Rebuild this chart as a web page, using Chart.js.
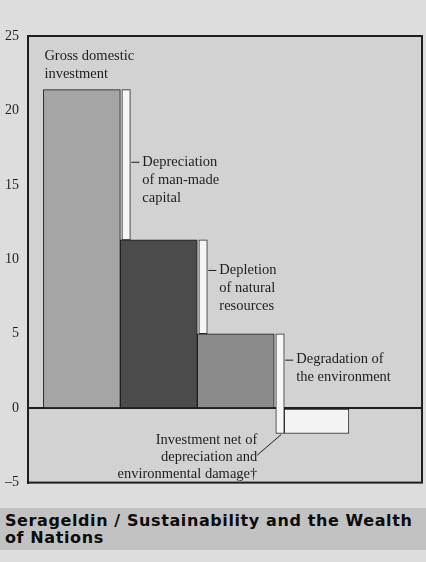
<!DOCTYPE html>
<html>
<head>
<meta charset="utf-8">
<script src="https://cdn.jsdelivr.net/npm/chart.js@4/dist/chart.umd.min.js"></script>
<style>
  html, body { margin: 0; padding: 0; width: 426px; height: 562px; overflow: hidden; background: #dddddd; }
  #wrap { position: absolute; left: 0; top: 0; width: 426px; height: 500px; }
  #footer {
    position: absolute; left: 0; top: 508px; width: 426px; height: 42px;
    box-sizing: border-box; padding: 4px 0 0 5px;
    background: #c2c2c2; color: #0c0c0c;
    font-family: "DejaVu Sans", sans-serif; font-weight: bold; font-size: 16px;
    line-height: 17px; letter-spacing: 0.6px; white-space: nowrap;
  }
</style>
</head>
<body>
<div id="wrap"><canvas id="c" width="426" height="500"></canvas></div>
<div id="footer">Serageldin / Sustainability and the Wealth<br>of Nations</div>
<script>
// Investment, percent of GNP: gross level, then what is left after each deduction
const stepNames = ['Gross domestic investment', 'Depreciation of man-made capital',
                   'Depletion of natural resources', 'Degradation of the environment'];
const netName = 'Investment net of depreciation and environmental damage†';
const levels = [21.4, 11.3, 5.0, -1.7];
const yTicks = [-5, 0, 5, 10, 15, 20, 25];

// Label text, line by line
const noteLines = [
  ['Gross domestic', 'investment'],
  ['Depreciation', 'of man-made', 'capital'],
  ['Depletion', 'of natural', 'resources'],
  ['Degradation of', 'the environment'],
  ['Investment net of', 'depreciation and', 'environmental damage†']
];

// Horizontal layout, measured in bar widths
const LEFT_GAP = 0.2, BRACKET_GAP = 0.02, BRACKET_W = 0.11, NET_W = 0.84, X_MAX = 5.12;
// where each bracket's leader sits, as a share of the bracket's height
const leaderShare = [0.48, 0.32, 0.26];

const barLeft = i => LEFT_GAP + i;
const bracketLeft = i => LEFT_GAP + i + 1 + BRACKET_GAP;
const netLeft = bracketLeft(2) + BRACKET_W;

const widthPx = w => ctx => {
  const s = ctx.chart.scales.x;
  return Math.abs(s.getPixelForValue(w) - s.getPixelForValue(0));
};

const INK = '#1e1e1e';
const SERIF = '"Liberation Serif", "Times New Roman", serif';

const framePlugin = {
  id: 'frame',
  beforeDraw(chart) {
    const { ctx, chartArea: a } = chart;
    ctx.save();
    ctx.fillStyle = '#d2d2d2';
    ctx.fillRect(a.left, a.top, a.right - a.left, a.bottom - a.top);
    ctx.restore();
  },
  afterDraw(chart) {
    const { ctx, chartArea: a } = chart;
    ctx.save();
    ctx.strokeStyle = INK;
    ctx.lineWidth = 2;
    ctx.strokeRect(a.left, a.top, a.right - a.left, a.bottom - a.top);
    ctx.restore();
  }
};

const notesPlugin = {
  id: 'notes',
  afterDatasetsDraw(chart) {
    const { ctx } = chart;
    const x = chart.scales.x, y = chart.scales.y;
    const lh = 18;
    ctx.save();
    ctx.font = '14.5px ' + SERIF;
    ctx.fillStyle = INK;
    ctx.strokeStyle = INK;
    ctx.lineWidth = 1;
    ctx.textBaseline = 'middle';

    // Gross domestic investment, above the first bar
    ctx.textAlign = 'left';
    const gx = x.getPixelForValue(barLeft(0)) + 1;
    const gy = y.getPixelForValue(levels[0]) - 33;
    noteLines[0].forEach((t, k) => ctx.fillText(t, gx, gy + k * lh));

    // deduction labels beside each bracket
    for (let i = 0; i < 3; i++) {
      const bx = x.getPixelForValue(bracketLeft(i) + BRACKET_W);
      const ly = y.getPixelForValue(levels[i] - leaderShare[i] * (levels[i] - levels[i + 1]));
      ctx.beginPath();
      ctx.moveTo(bx + 1, ly + 0.5);
      ctx.lineTo(bx + 9, ly + 0.5);
      ctx.stroke();
      noteLines[i + 1].forEach((t, k) => ctx.fillText(t, bx + 12, ly + k * lh));
    }

    // net investment label below the zero line
    const nx = x.getPixelForValue(netLeft);
    const zy = y.getPixelForValue(0);
    const ny = y.getPixelForValue(levels[3]);
    ctx.textAlign = 'right';
    noteLines[4].forEach((t, k) => ctx.fillText(t, nx - 27, zy + 32 + k * 17));
    ctx.beginPath();
    ctx.moveTo(nx - 27, zy + 47);
    ctx.lineTo(nx - 3, ny + 1);
    ctx.stroke();
    ctx.restore();
  }
};

new Chart(document.getElementById('c'), {
  type: 'bar',
  data: {
    datasets: [
      {
        label: 'Investment levels',
        data: levels.slice(0, 3).map((v, i) => ({ x: barLeft(i) + 0.5, y: [0, v] })),
        backgroundColor: ['#a5a5a5', '#4b4b4b', '#8b8b8b'],
        borderColor: INK,
        borderWidth: 1,
        barThickness: widthPx(1)
      },
      {
        label: 'Deductions',
        data: levels.slice(0, 3).map((v, i) => ({ x: bracketLeft(i) + BRACKET_W / 2, y: [levels[i + 1], v] })),
        backgroundColor: '#f6f6f6',
        borderColor: '#2a2a2a',
        borderWidth: 1,
        borderSkipped: false,
        barThickness: widthPx(BRACKET_W)
      },
      {
        label: netName,
        data: [{ x: netLeft + NET_W / 2, y: [levels[3], 0] }],
        backgroundColor: '#f3f3f3',
        borderColor: '#2a2a2a',
        borderWidth: 1,
        borderSkipped: false,
        barThickness: widthPx(NET_W)
      }
    ]
  },
  options: {
    responsive: false,
    animation: false,
    devicePixelRatio: 1,
    layout: { padding: { top: 36, right: 4, bottom: 14, left: 0 } },
    datasets: { bar: { grouped: false } },
    plugins: { legend: { display: false }, tooltip: { enabled: false } },
    scales: {
      x: { type: 'linear', min: 0, max: X_MAX, display: false, offset: false, grid: { offset: false } },
      y: {
        min: -5, max: 25,
        afterFit(s) { s.width = 28; },
        afterBuildTicks(s) { s.ticks = yTicks.map(v => ({ value: v })); },
        ticks: {
          padding: 9,
          color: INK,
          font: { family: SERIF, size: 14 },
          callback: v => (v < 0 ? '\u2013' + Math.abs(v) : String(v))
        },
        grid: {
          drawTicks: false,
          color: c => (c.tick && c.tick.value === 0 ? INK : 'rgba(0,0,0,0)'),
          lineWidth: 2
        },
        border: { display: true, color: INK, width: 2 }
      }
    }
  },
  plugins: [framePlugin, notesPlugin]
});
</script>
</body>
</html>
